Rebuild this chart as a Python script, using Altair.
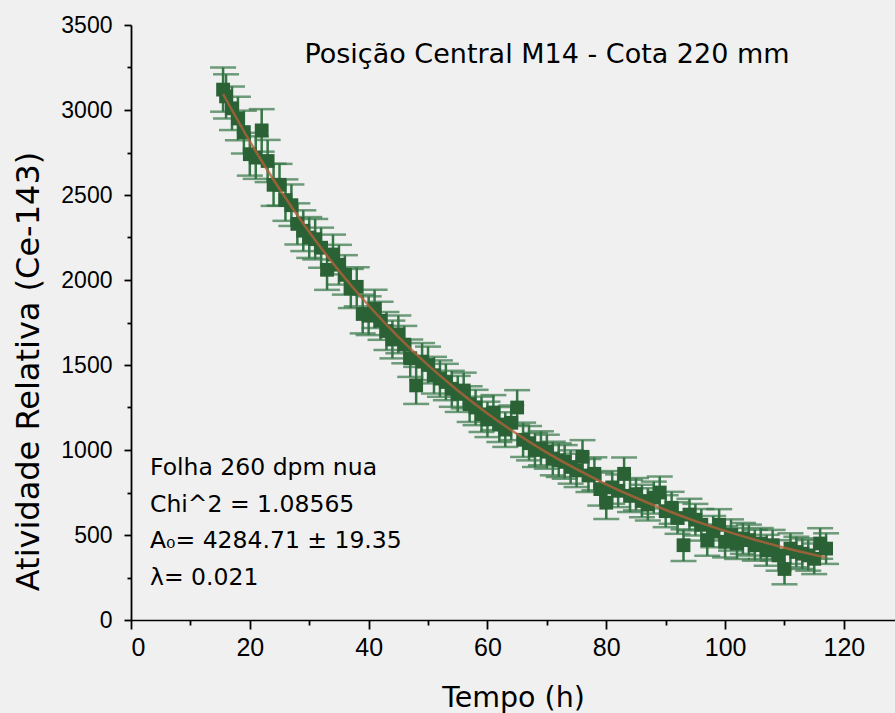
import altair as alt
import pandas as pd

# ---- data ----
time_h = [15.5, 16, 17, 18, 19, 20, 21, 22, 23, 24, 25, 26, 27, 28, 29, 30, 31, 32, 33, 34,
          35, 36, 37, 38, 39, 40, 41, 42, 43, 44, 45, 46, 47, 48, 49, 50, 51, 52, 53, 54,
          55, 56, 57, 58, 59, 60, 61, 62, 63, 64, 65, 66, 67, 68, 69, 70, 71, 72, 73, 74,
          75, 76, 77, 78, 79, 80, 81, 82, 83, 84, 85, 86, 87, 88, 89, 90, 91, 92, 93, 94,
          95, 96, 97, 98, 99, 100, 101, 102, 103, 104, 105, 106, 107, 108, 109, 110, 111,
          112, 113, 114, 115, 116, 117]
activity = [3120, 3080, 3010, 2950, 2870, 2740, 2720, 2880, 2700, 2560, 2560, 2470, 2440,
            2330, 2290, 2250, 2240, 2190, 2060, 2150, 2090, 2030, 1950, 1960, 1800, 1790,
            1830, 1760, 1700, 1650, 1680, 1620, 1540, 1380, 1520, 1500, 1440, 1420, 1400,
            1360, 1330, 1350, 1270, 1250, 1210, 1180, 1220, 1150, 1120, 1160, 1250, 1060,
            1040, 1000, 1010, 990, 950, 940, 930, 900, 880, 960, 850, 860, 770, 690, 780,
            760, 860, 730, 740, 700, 680, 720, 750, 640, 660, 600, 440, 620, 590, 560, 470,
            520, 560, 460, 500, 450, 480, 470, 440, 450, 410, 440, 380, 300, 420, 400, 390,
            380, 360, 450, 420]
error = [130, 130, 128, 128, 126, 126, 125, 125, 124, 124, 123, 122, 122, 121, 120, 120,
         119, 118, 118, 117, 117, 116, 115, 115, 114, 114, 113, 112, 112, 111, 111, 110,
         110, 109, 109, 108, 108, 107, 107, 106, 106, 105, 105, 104, 104, 104, 103, 103,
         102, 102, 102, 101, 101, 100, 100, 100, 99, 99, 99, 98, 98, 98, 97, 97, 97, 96,
         96, 96, 96, 95, 95, 95, 95, 94, 94, 94, 94, 93, 93, 93, 93, 93, 92, 92, 92, 92,
         92, 91, 91, 91, 91, 91, 91, 90, 90, 90, 90, 90, 90, 90, 90, 90, 90]
fit_t = [15.5, 20, 25, 30, 35, 40, 45, 50, 55, 60, 65, 70, 75, 80, 85, 90, 95, 100, 105,
         110, 115, 117]
fit_a = [3094, 2815, 2535, 2282, 2054, 1850, 1665, 1499, 1350, 1215, 1094, 985, 887, 798,
         719, 647, 582, 524, 472, 425, 383, 367]

title_text = "Posição Central M14 - Cota 220 mm"
info_lines = ["Folha 260 dpm nua", "Chi^2 = 1.08565", "A\u2080= 4284.71 \u00b1 19.35", "\u03bb= 0.021"]

df = pd.DataFrame({"t": time_h, "a": activity, "e": error})
fit_df = pd.DataFrame({"t": fit_t, "a": fit_a})

FONT = "DejaVu Sans"
GREEN = "#2a6236"
BAR = "#357546"
FIT = "#b3623a"

xscale = alt.Scale(domain=[0, 128.6], nice=False)
yscale = alt.Scale(domain=[0, 3500], nice=False)

xaxis = alt.Axis(
    values=list(range(0, 130, 10)),
    labelExpr="datum.value % 20 === 0 ? datum.label : ''",
    tickSize={"condition": {"test": "datum.value % 20 === 0", "value": 9}, "value": 5},
    labelPadding=6,
    title="Tempo (h)", titleFont=FONT, titleFontSize=28.5, titleFontWeight="normal",
    titleY=86, titleBaseline="alphabetic",
    labelFont="Liberation Sans Narrow, Liberation Sans", labelFontSize=25, labelColor="black",
    grid=False, domainColor="black", domainWidth=1.6, tickColor="black", tickWidth=1.8,
)
yaxis = alt.Axis(
    values=list(range(0, 3750, 250)),
    labelExpr="datum.value % 500 === 0 ? datum.label : ''",
    tickSize={"condition": {"test": "datum.value % 500 === 0", "value": 7}, "value": 4},
    labelPadding=12, format="d",
    title="Atividade Relativa (Ce-143)", titleFont=FONT, titleFontSize=32,
    titleFontWeight="normal", titleAngle=270, titleX=-93, titleY=346,
    titleAlign="center", titleBaseline="alphabetic",
    labelFont="Liberation Sans", labelFontSize=23, labelColor="black",
    grid=False, domainColor="black", domainWidth=1.8, tickColor="black", tickWidth=1.8,
)

base = alt.Chart(df)
enc_x = alt.X("t:Q", scale=xscale, axis=xaxis)

rules = base.mark_rule(color=BAR, strokeWidth=2.5).encode(
    x=enc_x,
    y=alt.Y("lo:Q", scale=yscale, axis=yaxis),
    y2="hi:Q",
).transform_calculate(lo="datum.a - datum.e", hi="datum.a + datum.e")

cap_lo = base.mark_tick(color=BAR, orient="horizontal", size=26, thickness=2.5).encode(
    x="t:Q", y="lo:Q"
).transform_calculate(lo="datum.a - datum.e")
cap_hi = base.mark_tick(color=BAR, orient="horizontal", size=26, thickness=2.5).encode(
    x="t:Q", y="hi:Q"
).transform_calculate(hi="datum.a + datum.e")

pts = base.mark_square(size=190, color=GREEN, opacity=1, filled=True).encode(
    x="t:Q", y="a:Q"
)

fit = alt.Chart(fit_df).mark_line(color=FIT, strokeWidth=2.5, opacity=0.8, interpolate="monotone").encode(
    x="t:Q", y="a:Q"
)

title_mark = alt.Chart(pd.DataFrame({"txt": [title_text]})).mark_text(
    font=FONT, fontSize=27, color="black", align="center", baseline="alphabetic"
).encode(text="txt:N", x=alt.value(416), y=alt.value(38))

info_layers = []
for i, line in enumerate(info_lines):
    info_layers.append(
        alt.Chart(pd.DataFrame({"txt": [line]})).mark_text(
            font=FONT, fontSize=23.5, color="black", align="left", baseline="alphabetic"
        ).encode(text="txt:N", x=alt.value(19), y=alt.value(450 + i * 36.5))
    )

chart = alt.layer(rules, cap_lo, cap_hi, pts, fit, title_mark, *info_layers).properties(
    width=764, height=595,
    autosize=alt.AutoSizeParams(type="none"),
    padding={"left": 131, "top": 25, "right": 0, "bottom": 93},
    background="#f0f0f0",
).configure_view(stroke=None)

chart.save("out.html", embed_options={"renderer": "svg", "actions": False})
